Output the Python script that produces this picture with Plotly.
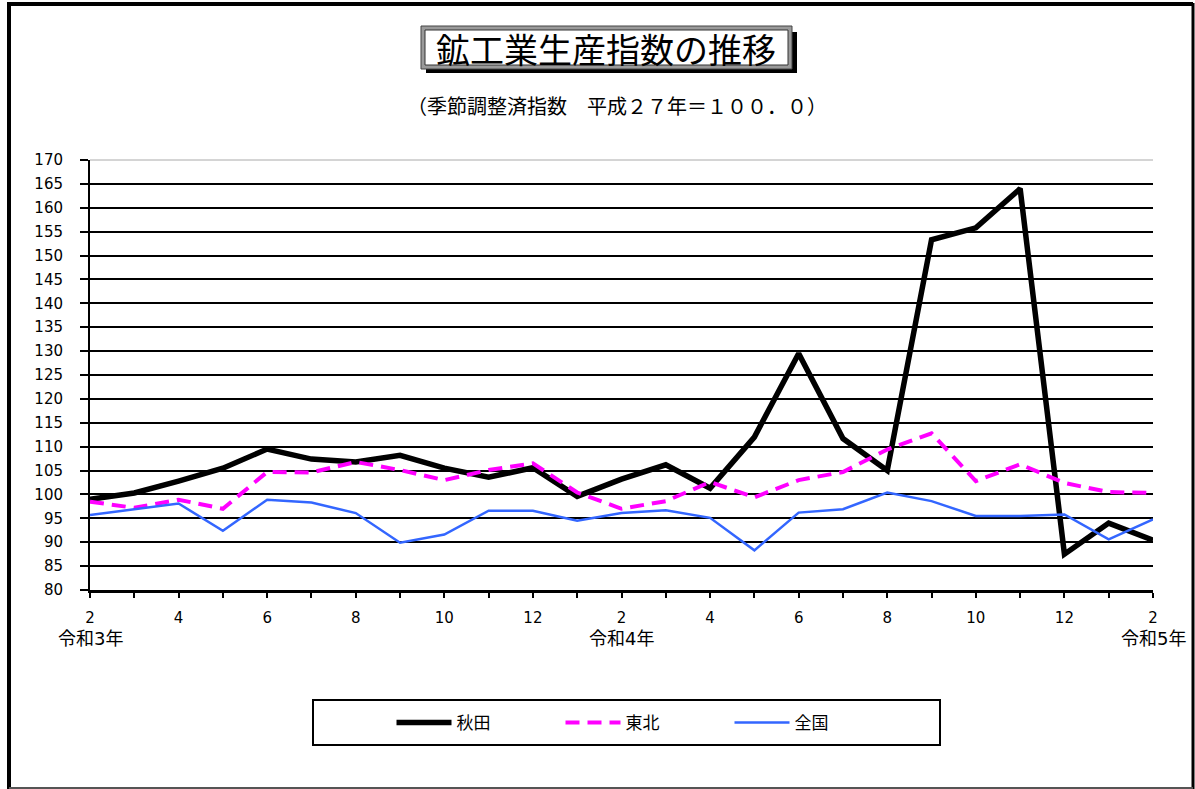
import plotly.graph_objects as go

# ---- data ----
month_index = list(range(25))
tick_positions = [0, 2, 4, 6, 8, 10, 12, 14, 16, 18, 20, 22, 24]
month_labels = ['2', '4', '6', '8', '10', '12', '2', '4', '6', '8', '10', '12', '2']
year_positions = [0, 12, 24]
year_labels = ['令和3年', '令和4年', '令和5年']

akita = [99.0, 100.3, 102.8, 105.5, 109.5, 107.4, 106.8, 108.2, 105.5, 103.6, 105.6, 99.6,
         103.2, 106.2, 101.3, 112.0, 129.5, 111.7, 105.0, 153.3, 155.8, 164.0, 87.5, 94.0, 90.4]
tohoku = [98.5, 97.2, 98.9, 97.0, 104.7, 104.6, 106.8, 105.1, 103.0, 105.1, 106.5, 100.4,
          97.0, 98.6, 102.6, 99.4, 103.0, 104.7, 109.4, 112.8, 102.8, 106.3, 102.4, 100.5, 100.3]
zenkoku = [95.7, 96.9, 98.1, 92.4, 98.9, 98.3, 96.1, 89.9, 91.6, 96.6, 96.6, 94.5,
           96.1, 96.7, 95.1, 88.3, 96.2, 96.9, 100.4, 98.6, 95.5, 95.5, 95.8, 90.6, 94.8]
y_ticks = list(range(80, 171, 5))

title_text = '鉱工業生産指数の推移'
subtitle_text = '（季節調整済指数　平成２７年＝１００．０）'

# ---- layout helpers (pixel -> paper) ----
W, H = 1195, 789
L, R, T, B = 90, 1153, 160, 590


def px(x):
    return (x - L) / (R - L)


def py(y):
    return (B - y) / (B - T)


FONT = 'DejaVu Sans, Noto Sans CJK JP, sans-serif'
JFONT = 'Noto Sans CJK JP, sans-serif'

fig = go.Figure()
fig.add_trace(go.Scatter(x=month_index, y=akita, name='秋田', mode='lines',
                         line=dict(color='black', width=5.5)))
fig.add_trace(go.Scatter(x=month_index, y=tohoku, name='東北', mode='lines',
                         line=dict(color='#FF00FF', width=4, dash='14px,8px')))
fig.add_trace(go.Scatter(x=month_index, y=zenkoku, name='全国', mode='lines',
                         line=dict(color='#3366FF', width=2.5)))

shapes = []
# outer frame
shapes.append(dict(type='line', xref='paper', yref='paper', x0=px(9), x1=px(9), y0=py(3), y1=py(789),
                   line=dict(color='black', width=4)))
shapes.append(dict(type='line', xref='paper', yref='paper', x0=px(7), x1=px(1193), y0=py(4), y1=py(4),
                   line=dict(color='black', width=4)))
shapes.append(dict(type='line', xref='paper', yref='paper', x0=px(1193), x1=px(1193), y0=py(3), y1=py(789),
                   line=dict(color='black', width=3)))
shapes.append(dict(type='line', xref='paper', yref='paper', x0=px(9), x1=px(1193), y0=py(788), y1=py(788),
                   line=dict(color='#555555', width=2)))
# title box: shadow, patterned border, white inner
shapes.append(dict(type='rect', xref='paper', yref='paper', x0=px(426), x1=px(797), y0=py(32), y1=py(73),
                   fillcolor='black', line=dict(width=0)))
shapes.append(dict(type='rect', xref='paper', yref='paper', x0=px(421), x1=px(792), y0=py(26), y1=py(69),
                   fillcolor='#9a9a9a', line=dict(color='#444444', width=1)))
shapes.append(dict(type='rect', xref='paper', yref='paper', x0=px(425), x1=px(788), y0=py(30), y1=py(65),
                   fillcolor='white', line=dict(color='#333333', width=1)))
# top border of plot area (thin gray)
shapes.append(dict(type='line', xref='paper', yref='paper', x0=0, x1=1, y0=1, y1=1, layer='above',
                   line=dict(color='white', width=3)))
shapes.append(dict(type='line', xref='paper', yref='paper', x0=0, x1=1, y0=1, y1=1, layer='above',
                   line=dict(color='#aaaaaa', width=1)))
# legend box
shapes.append(dict(type='rect', xref='paper', yref='paper', x0=px(313), x1=px(940), y0=py(700), y1=py(745),
                   fillcolor='white', line=dict(color='black', width=2)))

annotations = [
    dict(text=title_text, xref='paper', yref='paper', x=px(606), y=py(49), showarrow=False,
         xanchor='center', yanchor='middle', font=dict(family=JFONT, size=34, color='black')),
    dict(text=subtitle_text, xref='paper', yref='paper', x=px(617), y=py(105), showarrow=False,
         xanchor='center', yanchor='middle', font=dict(family=JFONT, size=20, color='black')),
]
for xp, lab in zip(year_positions, year_labels):
    annotations.append(dict(text=lab, x=xp, xref='x', yref='paper', y=py(638), showarrow=False,
                            xanchor='center', yanchor='middle',
                            font=dict(family=FONT, size=18, color='black')))

fig.update_layout(
    width=W, height=H,
    margin=dict(l=L, r=W - R, t=T, b=H - B, pad=0),
    paper_bgcolor='white', plot_bgcolor='white',
    font=dict(family=FONT, size=15, color='black'),
    showlegend=True,
    legend=dict(orientation='h', x=px(645), xanchor='center', y=py(723), yanchor='middle',
                bgcolor='rgba(0,0,0,0)', borderwidth=0, itemwidth=55, entrywidth=99,
                font=dict(family=FONT, size=17, color='black')),
    shapes=shapes,
    annotations=annotations,
    xaxis=dict(range=[0, 24], tickmode='array', tickvals=tick_positions, ticktext=month_labels,
               showgrid=False, zeroline=False, showline=True, linecolor='black', linewidth=3,
               ticks='outside', ticklen=5, tickwidth=1.5, tickcolor='black', ticklabelstandoff=7,
               tickfont=dict(family=FONT, size=15, color='black'),
               minor=dict(tickmode='array', tickvals=month_index, ticks='outside', ticklen=5,
                          tickwidth=1.5, tickcolor='black', showgrid=False)),
    yaxis=dict(range=[80, 170], tickmode='array', tickvals=y_ticks,
               showgrid=True, gridcolor='black', gridwidth=2, zeroline=False,
               showline=True, linecolor='black', linewidth=2,
               ticks='outside', ticklen=8, tickwidth=2, tickcolor='black', ticklabelstandoff=14,
               tickfont=dict(family=FONT, size=15, color='black')),
)

fig.write_html('out.html')
